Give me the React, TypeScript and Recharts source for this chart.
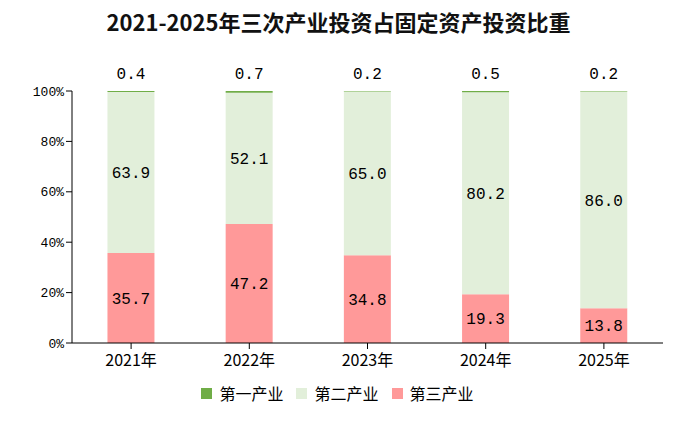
import { Bar, BarChart, LabelList, Legend, XAxis, YAxis } from "recharts";

const years = ["2021年", "2022年", "2023年", "2024年", "2025年"];
const primary = [0.4, 0.7, 0.2, 0.5, 0.2];
const secondary = [63.9, 52.1, 65.0, 80.2, 86.0];
const tertiary = [35.7, 47.2, 34.8, 19.3, 13.8];
const yTicks = [0, 20, 40, 60, 80, 100];

const data = years.map((year, i) => ({
  year,
  primary: primary[i],
  secondary: secondary[i],
  tertiary: tertiary[i],
}));

const series = [
  { key: "primary", name: "第一产业", color: "#70AD47" },
  { key: "secondary", name: "第二产业", color: "#E2EFDA" },
  { key: "tertiary", name: "第三产业", color: "#FF9999" },
];

const numFont = '"Liberation Mono", "DejaVu Sans Mono", monospace';
const cjkFont = '"Noto Sans CJK SC", sans-serif';

const fmt = (v: any) => Number(v).toFixed(1);

function LegendContent() {
  return (
    <div style={{ display: "flex", justifyContent: "center", gap: 13, fontFamily: cjkFont, fontSize: 16, color: "#000" }}>
      {series.map((s) => (
        <div key={s.key} style={{ display: "flex", alignItems: "center", gap: 7 }}>
          <span style={{ width: 11, height: 11, background: s.color, display: "inline-block" }} />
          <span>{s.name}</span>
        </div>
      ))}
    </div>
  );
}

export default function App() {
  return (
    <div style={{ position: "absolute", left: 0, top: 0, width: 677, height: 428, background: "#fff" }}>
      <div
        style={{
          position: "absolute",
          top: 5,
          left: 0,
          width: 677,
          textAlign: "center",
          fontFamily: cjkFont,
          fontWeight: 700,
          fontSize: 22,
          color: "#111",
        }}
      >
        2021-2025年三次产业投资占固定资产投资比重
      </div>
      <BarChart
        width={677}
        height={428}
        data={data}
        margin={{ top: 91, right: 14, bottom: 0, left: 12 }}
        barCategoryGap="30%"
      >
        <XAxis
          dataKey="year"
          axisLine={{ stroke: "#000" }}
          tickLine={{ stroke: "#000" }}
          tickSize={6}
          tickMargin={6}
          height={38}
          tick={{ fill: "#000", fontSize: 16, fontFamily: cjkFont }}
          interval={0}
        />
        <YAxis
          width={60}
          domain={[0, 100]}
          ticks={yTicks}
          tickFormatter={(v) => `${v}%`}
          axisLine={{ stroke: "#000" }}
          tickLine={{ stroke: "#000" }}
          tickSize={6}
          tick={{ fill: "#000", fontSize: 13, fontFamily: numFont }}
        />
        <Legend verticalAlign="bottom" height={47} content={<LegendContent />} />
        <Bar dataKey="tertiary" name="第三产业" stackId="a" fill="#FF9999" isAnimationActive={false}>
          <LabelList dataKey="tertiary" position="center" formatter={fmt} fill="#000" fontSize={16} fontFamily={numFont} />
        </Bar>
        <Bar dataKey="secondary" name="第二产业" stackId="a" fill="#E2EFDA" isAnimationActive={false}>
          <LabelList dataKey="secondary" position="center" formatter={fmt} fill="#000" fontSize={16} fontFamily={numFont} />
        </Bar>
        <Bar dataKey="primary" name="第一产业" stackId="a" fill="#70AD47" isAnimationActive={false}>
          <LabelList dataKey="primary" position="top" offset={12} formatter={fmt} fill="#000" fontSize={16} fontFamily={numFont} />
        </Bar>
      </BarChart>
    </div>
  );
}
